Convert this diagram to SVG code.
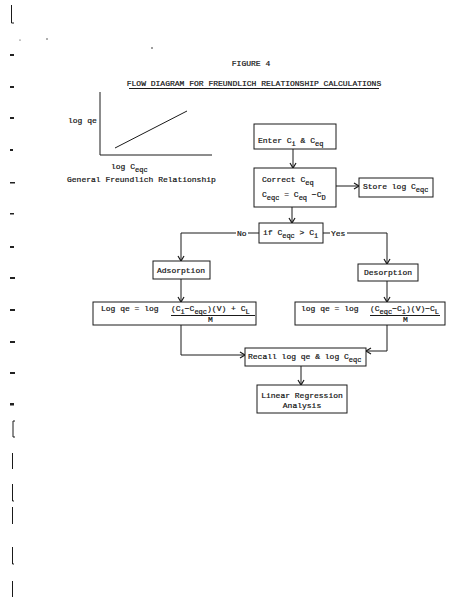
<svg xmlns="http://www.w3.org/2000/svg" width="463" height="599" viewBox="0 0 463 599">
<style>
text{font-family:"Liberation Mono","DejaVu Sans Mono",monospace;font-size:8px;fill:#111;stroke:#111;stroke-width:0.2}
.s{font-size:7px}
.b{fill:#fff;stroke:#1a1a1a;stroke-width:1}
.c{fill:none;stroke:#1a1a1a;stroke-width:1}
.m{fill:#222}
</style>
<defs>
<marker id="a" markerWidth="8" markerHeight="8" refX="6" refY="4" orient="auto" markerUnits="userSpaceOnUse">
<path d="M1,1 L6,4 L1,7" fill="none" stroke="#1a1a1a" stroke-width="1.2"/>
</marker>
</defs>
<rect width="463" height="599" fill="#fff"/>
<g id="margin">
<path class="c" d="M11.5,5 V23 H14"/>
<rect class="m" x="10" y="54" width="4" height="2"/>
<rect class="m" x="10" y="86" width="4" height="2"/>
<rect class="m" x="10" y="117" width="4" height="2"/>
<rect class="m" x="10" y="149" width="3" height="2"/>
<rect class="m" x="10" y="182" width="5" height="1.5"/>
<rect class="m" x="10" y="213" width="4" height="1.5"/>
<rect class="m" x="10" y="246" width="4" height="2"/>
<rect class="m" x="10" y="277" width="5" height="2"/>
<rect class="m" x="10" y="309" width="5" height="2"/>
<rect class="m" x="10" y="341" width="5" height="2"/>
<rect class="m" x="10" y="372" width="5" height="2"/>
<rect class="m" x="10" y="403" width="4" height="2.5"/>
<path class="c" d="M15,421 H13 V437 H15"/>
<path class="c" d="M12.5,453 V469" stroke-width="1.5"/>
<path class="c" d="M12.5,484 V501 H14" stroke-width="1.5"/>
<path class="c" d="M12.5,507 V524" stroke-width="1.5"/>
<path class="c" d="M12.5,547 V564 H14" stroke-width="1.5"/>
<path class="c" d="M12.5,581 V597" stroke-width="1.5"/>
<circle class="m" cx="20" cy="40" r="0.6"/>
<circle class="m" cx="47" cy="39" r="0.7"/>
<circle class="m" cx="152" cy="48" r="0.8"/>
</g>
<g id="title">
<text x="251" y="66" text-anchor="middle">FIGURE 4</text>
<text x="254" y="86" text-anchor="middle">FLOW DIAGRAM FOR FREUNDLICH RELATIONSHIP CALCULATIONS</text>
<line class="c" x1="129" y1="88.5" x2="379" y2="88.5"/>
</g>
<g id="graph">
<path class="c" d="M100,92 V155 H212"/>
<line class="c" x1="115" y1="148" x2="187" y2="111"/>
<text x="68" y="123">log qe</text>
<text x="111" y="169">log C<tspan class="s" dy="3">eqc</tspan></text>
<text x="67" y="182">General Freundlich Relationship</text>
</g>
<g id="connectors">
<line class="c" x1="293" y1="149" x2="293" y2="168" marker-end="url(#a)"/>
<line class="c" x1="336" y1="186" x2="359" y2="186" marker-end="url(#a)"/>
<line class="c" x1="292" y1="207" x2="292" y2="223" marker-end="url(#a)"/>
<path class="c" d="M236,233 H181 V261" marker-end="url(#a)"/>
<line class="c" x1="248" y1="233" x2="259" y2="233"/>
<line class="c" x1="323" y1="233" x2="330" y2="233"/>
<path class="c" d="M347,233 H387 V264" marker-end="url(#a)"/>
<line class="c" x1="181" y1="279" x2="181" y2="302" marker-end="url(#a)"/>
<line class="c" x1="387" y1="281" x2="387" y2="302" marker-end="url(#a)"/>
<path class="c" d="M181,325 V355 H245" marker-end="url(#a)"/>
<path class="c" d="M387,325 V351 H366" marker-end="url(#a)"/>
<line class="c" x1="301" y1="366" x2="301" y2="385" marker-end="url(#a)"/>
<text x="237" y="236">No</text>
<text x="331" y="236">Yes</text>
</g>
<g id="enter">
<rect class="b" x="254" y="124" width="82" height="25"/>
<text x="258" y="143">Enter C<tspan class="s" dy="3">i</tspan><tspan dy="-3"> &amp; C</tspan><tspan class="s" dy="3">eq</tspan></text>
</g>
<g id="correct">
<rect class="b" x="254" y="168" width="82" height="39"/>
<text x="262" y="182">Correct C<tspan class="s" dy="3">eq</tspan></text>
<text x="262" y="197">C<tspan class="s" dy="3">eqc</tspan><tspan dy="-3"> = C</tspan><tspan class="s" dy="3">eq</tspan><tspan dy="-3"> −C</tspan><tspan class="s" dy="3">D</tspan></text>
</g>
<g id="store">
<rect class="b" x="359" y="178" width="74" height="19"/>
<text x="363" y="189">Store log C<tspan class="s" dy="3">eqc</tspan></text>
</g>
<g id="decision">
<rect class="b" x="259" y="223" width="64" height="20"/>
<text x="263" y="235">if C<tspan class="s" dy="3">eqc</tspan><tspan dy="-3"> &gt; C</tspan><tspan class="s" dy="3">i</tspan></text>
</g>
<g id="adsorption">
<rect class="b" x="153" y="261" width="57" height="18"/>
<text x="157" y="273">Adsorption</text>
</g>
<g id="desorption">
<rect class="b" x="358" y="264" width="60" height="17"/>
<text x="364" y="275">Desorption</text>
</g>
<g id="adsorption-eq">
<rect class="b" x="93" y="302" width="163" height="23"/>
<text x="101" y="311">Log qe = log</text>
<text x="171" y="311">(C<tspan class="s" dy="3">i</tspan><tspan dy="-3">−C</tspan><tspan class="s" dy="3">eqc</tspan><tspan dy="-3">)(V) + C</tspan><tspan class="s" dy="3">L</tspan></text>
<line class="c" x1="171" y1="315.5" x2="255" y2="315.5"/>
<text x="208" y="322">M</text>
</g>
<g id="desorption-eq">
<rect class="b" x="295" y="302" width="150" height="23"/>
<text x="301" y="311">log qe = log</text>
<text x="370" y="311">(C<tspan class="s" dy="3">eqc</tspan><tspan dy="-3">−C</tspan><tspan class="s" dy="3">i</tspan><tspan dy="-3">)(V)−C</tspan><tspan class="s" dy="3">L</tspan></text>
<line class="c" x1="370" y1="315.5" x2="440" y2="315.5"/>
<text x="403" y="322">M</text>
</g>
<g id="recall">
<rect class="b" x="245" y="348" width="121" height="18"/>
<text x="248" y="359">Recall log qe &amp; log C<tspan class="s" dy="3">eqc</tspan></text>
</g>
<g id="regression">
<rect class="b" x="257" y="385" width="90" height="28"/>
<text x="302" y="398" text-anchor="middle">Linear Regression</text>
<text x="302" y="408" text-anchor="middle">Analysis</text>
</g>
</svg>
